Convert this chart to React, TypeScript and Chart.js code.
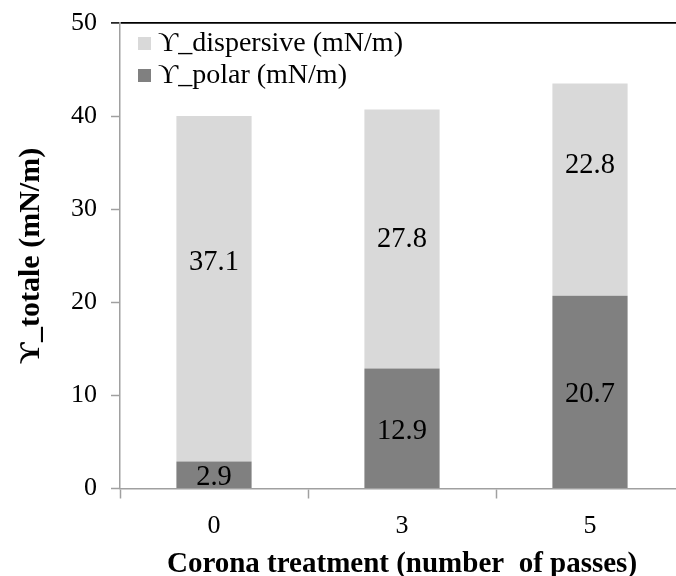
import React, { useEffect, useRef } from "react";
import { Chart, registerables } from "chart.js";

Chart.register(...registerables);

const categories = ["0", "3", "5"];
const polarValues = [2.9, 12.9, 20.7];
const dispersiveValues = [37.1, 27.8, 22.8];
// vertical position (in axis units) where the dispersive value labels sit in the reference
const dispersiveLabelPos = [24.6, 27.1, 35.0];
const yTicks = [0, 10, 20, 30, 40, 50];
const polarLabel = "\u03D2_polar (mN/m)";
const dispersiveLabel = "\u03D2_dispersive (mN/m)";
const yTitle = "\u03D2_totale (mN/m)";
const xTitle = "Corona treatment (number  of passes)";

const SERIF = '"Liberation Serif", "DejaVu Serif", serif';

const labelPlugin = {
  id: "valueLabels",
  afterDatasetsDraw(chart: any) {
    const ctx = chart.ctx;
    const yScale = chart.scales.y;
    ctx.save();
    ctx.font = `28.5px ${SERIF}`;
    ctx.fillStyle = "#000";
    ctx.textAlign = "center";
    ctx.textBaseline = "middle";
    chart.data.datasets.forEach((ds: any, di: number) => {
      const meta = chart.getDatasetMeta(di);
      meta.data.forEach((bar: any, i: number) => {
        const v = ds.data[i];
        let y;
        if (ds.key === "dispersive") y = yScale.getPixelForValue(dispersiveLabelPos[i]);
        else y = (bar.y + bar.base) / 2;
        ctx.fillText(v.toFixed(1), bar.x, y + 3);
      });
    });
    ctx.restore();
  },
};

const legendPlugin = {
  id: "customLegend",
  afterDraw(chart: any) {
    const ctx = chart.ctx;
    const area = chart.chartArea;
    const items = [...chart.data.datasets].reverse();
    ctx.save();
    ctx.font = `28px ${SERIF}`;
    ctx.textAlign = "left";
    ctx.textBaseline = "middle";
    items.forEach((ds: any, i: number) => {
      const bx = area.left + 18;
      const by = area.top + 14 + i * 32;
      ctx.fillStyle = ds.backgroundColor;
      ctx.fillRect(bx, by, 13, 13);
      ctx.fillStyle = "#000";
      ctx.fillText(ds.label, bx + 20, by + 7);
    });
    ctx.restore();
  },
};

export default function App() {
  const ref = useRef<HTMLCanvasElement>(null);
  useEffect(() => {
    document.documentElement.style.overflow = "hidden";
    let chart: any = null;
    let cancelled = false;
    const build = () => {
      if (cancelled || !ref.current) return;
      chart = new Chart(ref.current, {
        type: "bar",
        data: {
          labels: categories,
          datasets: [
            {
              key: "polar",
              label: polarLabel,
              data: polarValues,
              backgroundColor: "#808080",
              categoryPercentage: 1,
              barPercentage: 0.4,
            } as any,
            {
              key: "dispersive",
              label: dispersiveLabel,
              data: dispersiveValues,
              backgroundColor: "#d9d9d9",
              categoryPercentage: 1,
              barPercentage: 0.4,
            } as any,
          ],
        },
        options: {
          responsive: false,
          animation: false,
          devicePixelRatio: 1,
          layout: { padding: { top: 23, right: 0, bottom: 0, left: 0 } },
          plugins: {
            legend: { display: false },
            tooltip: { enabled: false },
          },
          scales: {
            x: {
              stacked: true,
              offset: true,
              grid: {
                offset: true,
                drawOnChartArea: false,
                drawTicks: true,
                tickLength: 10,
                tickColor: "#a0a0a0",
                tickWidth: 1.5,
                color: "#a0a0a0",
              },
              border: { color: "#a0a0a0", width: 1.5 },
              ticks: {
                color: "#000",
                font: { family: SERIF, size: 26 },
                padding: 12,
                maxRotation: 0,
              },
              title: {
                display: true,
                text: xTitle,
                color: "#000",
                font: { family: SERIF, size: 29, weight: "bold" },
                padding: { top: 0, bottom: -6 },
              },
              afterFit(s: any) {
                s.height = 87.5;
                s.paddingLeft = 0;
                s.paddingRight = 0;
              },
            },
            y: {
              stacked: true,
              min: 0,
              max: 50,
              afterBuildTicks(s: any) {
                s.ticks = yTicks.map((v) => ({ value: v }));
              },
              grid: {
                drawOnChartArea: true,
                drawTicks: true,
                tickLength: 9,
                color: (c: any) => (c.tick && c.tick.value === 50 ? "#000" : "rgba(0,0,0,0)"),
                lineWidth: (c: any) => (c.tick && c.tick.value === 50 ? 1.8 : 1),
                tickColor: (c: any) => (c.tick && c.tick.value === 50 ? "#000" : "#a0a0a0"),
                tickWidth: 1.5,
              },
              border: { color: "#a0a0a0", width: 1.5 },
              ticks: {
                color: "#000",
                font: { family: SERIF, size: 26 },
                padding: 14,
              },
              title: {
                display: true,
                text: yTitle,
                color: "#000",
                font: { family: SERIF, size: 30, weight: "bold" },
                padding: { top: 13, bottom: 0 },
              },
              afterFit(s: any) {
                s.width = 120;
                s.paddingTop = 0;
                s.paddingBottom = 0;
              },
            },
          },
        },
        plugins: [labelPlugin, legendPlugin],
      });
    };
    const fonts: any = (document as any).fonts;
    if (fonts && fonts.load) {
      Promise.all([
        fonts.load('28px "Liberation Serif"'),
        fonts.load('bold 28px "Liberation Serif"'),
      ]).then(build, build);
    } else {
      build();
    }
    return () => {
      cancelled = true;
      if (chart) chart.destroy();
    };
  }, []);
  return (
    <div style={{ position: "fixed", left: 0, top: 0, width: 684, height: 576, background: "#fff" }}>
      <span style={{ fontFamily: '"Liberation Serif"', position: "absolute", left: -1000, top: 0 }}>
        x<b>x</b>
      </span>
      <canvas ref={ref} width={684} height={576} style={{ display: "block", width: 684, height: 576 }} />
    </div>
  );
}
